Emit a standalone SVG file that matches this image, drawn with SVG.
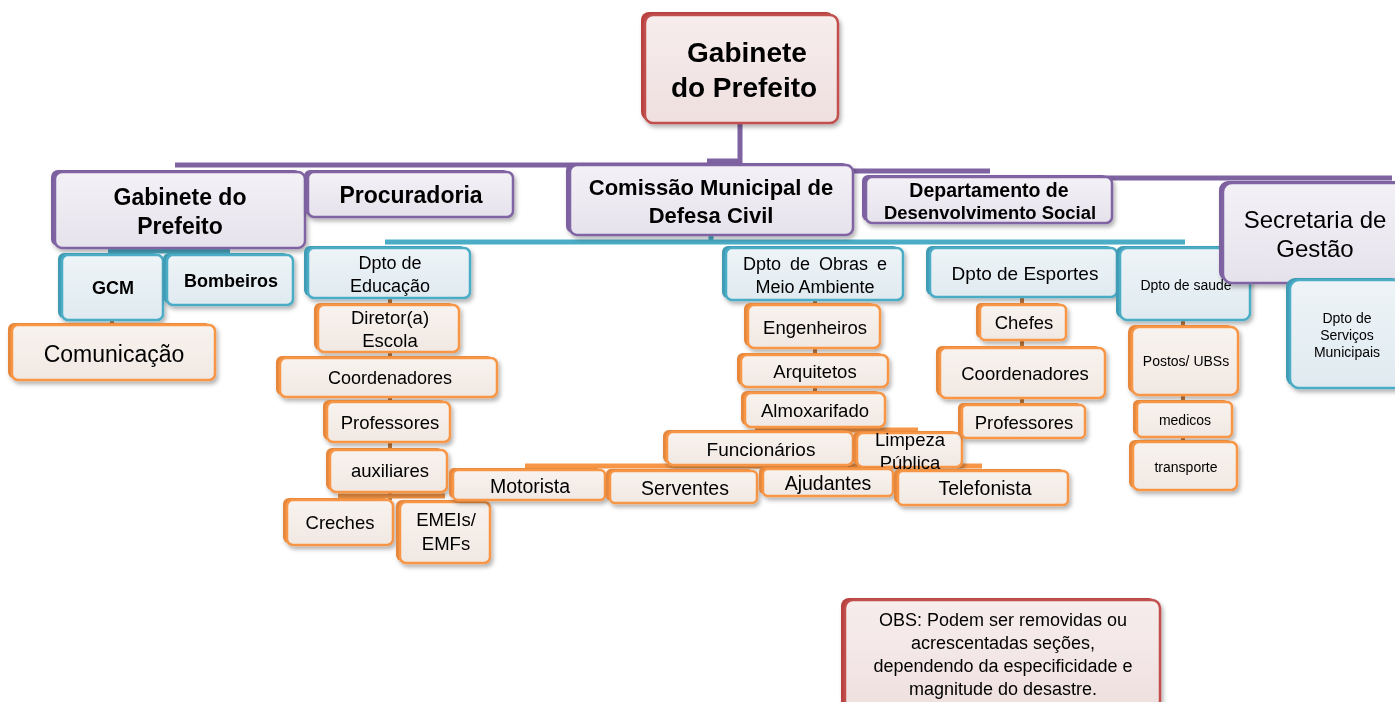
<svg xmlns="http://www.w3.org/2000/svg" width="1395" height="702" viewBox="0 0 1395 702">
<defs>
<linearGradient id="gp" x1="0" y1="0" x2="0" y2="1"><stop offset="0" stop-color="#f3f1f6"/><stop offset="1" stop-color="#e6e2ec"/></linearGradient>
<linearGradient id="gb" x1="0" y1="0" x2="0" y2="1"><stop offset="0" stop-color="#eef4f7"/><stop offset="1" stop-color="#dfeaf0"/></linearGradient>
<linearGradient id="go" x1="0" y1="0" x2="0" y2="1"><stop offset="0" stop-color="#f8f3ef"/><stop offset="1" stop-color="#f1e8e2"/></linearGradient>
<linearGradient id="gr" x1="0" y1="0" x2="0" y2="1"><stop offset="0" stop-color="#f7eded"/><stop offset="1" stop-color="#efdfdf"/></linearGradient>
<filter id="sh" x="-10%" y="-10%" width="130%" height="140%"><feDropShadow dx="2" dy="3" stdDeviation="2" flood-color="#000" flood-opacity="0.3"/></filter>
</defs>
<style>
.fr{stroke-width:2.5}
.p{fill:url(#gp);stroke:#8064a2}
.b{fill:url(#gb);stroke:#4bacc6}
.o{fill:url(#go);stroke:#f79646}
.r{fill:url(#gr);stroke:#c0504d}
.pk{fill:#7d619f}
.bk{fill:#3f9bb4}
.ok{fill:#e6873a}
.rk{fill:#b9433f}
.nd{filter:url(#sh)}
text{font-family:"Liberation Sans",Arial,sans-serif;fill:#000;text-anchor:middle}
.bd{font-weight:bold}
.cp{stroke:#7f63a1;stroke-width:5;fill:none}
.cb{stroke:#4bacc6;stroke-width:5;fill:none}
.co{stroke:#f79646;stroke-width:5;fill:none}
.cv{stroke:#c07a40;stroke-width:4;fill:none}
</style>

<g id="connectors">
<path class="cp" d="M740 123 V165 M175 165 H740 M740 171 H990 M990 178 H1392"/>
<path class="cp" d="M707 161 H740"/>
<path class="cb" d="M108 251 H230 M711 235 V242 M385 242 H1185"/>
<path class="cv" d="M112 320 V327 M390 298 V500 M815 300 V430 M1022 297 V405 M1183 320 V442"/>
<path class="co" d="M338 496 H445 M755 430 H918 M525 466 H982"/>
</g>

<g id="n-gabinete-top" class="nd"><rect class="rk" x="641" y="12" width="193" height="108" rx="8"/><rect class="fr r" x="645" y="15" width="193" height="108" rx="8"/>
<text class="bd" x="747" y="62" font-size="28">Gabinete</text><text class="bd" x="744" y="97" font-size="28">do Prefeito</text></g>

<g id="n-gabinete" class="nd"><rect class="pk" x="51" y="170" width="250" height="76" rx="7"/><rect class="fr p" x="55" y="172" width="250" height="76" rx="7"/>
<text class="bd" x="180" y="205" font-size="23">Gabinete do</text><text class="bd" x="180" y="234" font-size="23">Prefeito</text></g>

<g id="n-procuradoria" class="nd"><rect class="pk" x="304" y="170" width="205" height="45" rx="6"/><rect class="fr p" x="308" y="172" width="205" height="45" rx="6"/>
<text class="bd" x="411" y="203" font-size="23">Procuradoria</text></g>

<g id="n-comissao" class="nd"><rect class="pk" x="566" y="163" width="283" height="70" rx="7"/><rect class="fr p" x="570" y="165" width="283" height="70" rx="7"/>
<text class="bd" x="711" y="195" font-size="22">Comissão Municipal de</text><text class="bd" x="711" y="223" font-size="22">Defesa Civil</text></g>

<g id="n-departamento" class="nd"><rect class="pk" x="862" y="175" width="246" height="46" rx="6"/><rect class="fr p" x="866" y="177" width="246" height="46" rx="6"/>
<text class="bd" x="989" y="197" font-size="19.5">Departamento de</text><text class="bd" x="990" y="219" font-size="19" textLength="212" lengthAdjust="spacingAndGlyphs">Desenvolvimento Social</text></g>

<g id="n-gcm" class="nd"><rect class="bk" x="58" y="253" width="101" height="65" rx="6"/><rect class="fr b" x="62" y="255" width="101" height="65" rx="6"/>
<text class="bd" x="113" y="294" font-size="18">GCM</text></g>

<g id="n-bombeiros" class="nd"><rect class="bk" x="163" y="253" width="126" height="50" rx="6"/><rect class="fr b" x="167" y="255" width="126" height="50" rx="6"/>
<text class="bd" x="231" y="287" font-size="18">Bombeiros</text></g>

<g id="n-comunicacao" class="nd"><rect class="ok" x="8" y="323" width="203" height="55" rx="6"/><rect class="fr o" x="12" y="325" width="203" height="55" rx="6"/>
<text x="114" y="362" font-size="23">Comunicação</text></g>

<g id="n-educacao" class="nd"><rect class="bk" x="304" y="246" width="162" height="50" rx="6"/><rect class="fr b" x="308" y="248" width="162" height="50" rx="6"/>
<text x="390" y="269" font-size="18">Dpto de</text><text x="390" y="292" font-size="18">Educação</text></g>

<g id="n-diretor" class="nd"><rect class="ok" x="314" y="303" width="141" height="47" rx="6"/><rect class="fr o" x="318" y="305" width="141" height="47" rx="6"/>
<text x="390" y="324" font-size="18.5">Diretor(a)</text><text x="390" y="347" font-size="18.5">Escola</text></g>

<g id="n-coord-edu" class="nd"><rect class="ok" x="276" y="356" width="217" height="39" rx="6"/><rect class="fr o" x="280" y="358" width="217" height="39" rx="6"/>
<text x="390" y="384" font-size="18">Coordenadores</text></g>

<g id="n-prof-edu" class="nd"><rect class="ok" x="323" y="400" width="123" height="40" rx="6"/><rect class="fr o" x="327" y="402" width="123" height="40" rx="6"/>
<text x="390" y="429" font-size="18.5">Professores</text></g>

<g id="n-auxiliares" class="nd"><rect class="ok" x="326" y="448" width="117" height="42" rx="6"/><rect class="fr o" x="330" y="450" width="117" height="42" rx="6"/>
<text x="390" y="477" font-size="18.5">auxiliares</text></g>

<g id="n-creches" class="nd"><rect class="ok" x="283" y="498" width="106" height="45" rx="6"/><rect class="fr o" x="287" y="500" width="106" height="45" rx="6"/>
<text x="340" y="529" font-size="18.5">Creches</text></g>

<g id="n-emeis" class="nd"><rect class="ok" x="396" y="500" width="90" height="61" rx="6"/><rect class="fr o" x="400" y="502" width="90" height="61" rx="6"/>
<text x="446" y="526" font-size="18.5">EMEIs/</text><text x="446" y="550" font-size="18.5">EMFs</text></g>

<g id="n-obras" class="nd"><rect class="bk" x="722" y="246" width="177" height="52" rx="6"/><rect class="fr b" x="726" y="248" width="177" height="52" rx="6"/>
<text x="815" y="270" font-size="18" word-spacing="4">Dpto de Obras e</text><text x="815" y="293" font-size="18">Meio Ambiente</text></g>

<g id="n-engenheiros" class="nd"><rect class="ok" x="744" y="303" width="132" height="43" rx="6"/><rect class="fr o" x="748" y="305" width="132" height="43" rx="6"/>
<text x="815" y="334" font-size="18.5">Engenheiros</text></g>

<g id="n-arquitetos" class="nd"><rect class="ok" x="737" y="353" width="147" height="32" rx="6"/><rect class="fr o" x="741" y="355" width="147" height="32" rx="6"/>
<text x="815" y="378" font-size="18.5">Arquitetos</text></g>

<g id="n-almoxarifado" class="nd"><rect class="ok" x="741" y="391" width="140" height="34" rx="6"/><rect class="fr o" x="745" y="393" width="140" height="34" rx="6"/>
<text x="815" y="417" font-size="18.5">Almoxarifado</text></g>

<g id="n-funcionarios" class="nd"><rect class="ok" x="663" y="430" width="186" height="33" rx="6"/><rect class="fr o" x="667" y="432" width="186" height="33" rx="6"/>
<text x="761" y="456" font-size="19">Funcionários</text></g>

<g id="n-limpeza" class="nd"><rect class="ok" x="853" y="431" width="105" height="34" rx="6"/><rect class="fr o" x="857" y="433" width="105" height="34" rx="6"/>
<text x="910" y="446" font-size="18.5">Limpeza</text><text x="910" y="469" font-size="18.5">Pública</text></g>

<g id="n-motorista" class="nd"><rect class="ok" x="449" y="468" width="152" height="30" rx="5"/><rect class="fr o" x="453" y="470" width="152" height="30" rx="5"/>
<text x="530" y="493" font-size="19.5">Motorista</text></g>

<g id="n-serventes" class="nd"><rect class="ok" x="606" y="469" width="147" height="32" rx="5"/><rect class="fr o" x="610" y="471" width="147" height="32" rx="5"/>
<text x="685" y="495" font-size="19.5">Serventes</text></g>

<g id="n-ajudantes" class="nd"><rect class="ok" x="759" y="467" width="130" height="27" rx="5"/><rect class="fr o" x="763" y="469" width="130" height="27" rx="5"/>
<text x="828" y="490" font-size="19.5">Ajudantes</text></g>

<g id="n-telefonista" class="nd"><rect class="ok" x="894" y="469" width="170" height="34" rx="5"/><rect class="fr o" x="898" y="471" width="170" height="34" rx="5"/>
<text x="985" y="495" font-size="19.5">Telefonista</text></g>

<g id="n-esportes" class="nd"><rect class="bk" x="926" y="246" width="187" height="49" rx="6"/><rect class="fr b" x="930" y="248" width="187" height="49" rx="6"/>
<text x="1025" y="280" font-size="19">Dpto de Esportes</text></g>

<g id="n-chefes" class="nd"><rect class="ok" x="976" y="303" width="86" height="35" rx="5"/><rect class="fr o" x="980" y="305" width="86" height="35" rx="5"/>
<text x="1024" y="329" font-size="18.5">Chefes</text></g>

<g id="n-coord-esp" class="nd"><rect class="ok" x="936" y="346" width="165" height="50" rx="6"/><rect class="fr o" x="940" y="348" width="165" height="50" rx="6"/>
<text x="1025" y="380" font-size="18.5">Coordenadores</text></g>

<g id="n-prof-esp" class="nd"><rect class="ok" x="958" y="403" width="123" height="33" rx="5"/><rect class="fr o" x="962" y="405" width="123" height="33" rx="5"/>
<text x="1024" y="429" font-size="18.5">Professores</text></g>

<g id="n-saude" class="nd"><rect class="bk" x="1116" y="246" width="130" height="72" rx="7"/><rect class="fr b" x="1120" y="248" width="130" height="72" rx="7"/>
<text x="1186" y="290" font-size="14">Dpto de saude</text></g>

<g id="n-postos" class="nd"><rect class="ok" x="1128" y="325" width="106" height="68" rx="7"/><rect class="fr o" x="1132" y="327" width="106" height="68" rx="7"/>
<text x="1186" y="366" font-size="14">Postos/ UBSs</text></g>

<g id="n-medicos" class="nd"><rect class="ok" x="1133" y="400" width="95" height="35" rx="5"/><rect class="fr o" x="1137" y="402" width="95" height="35" rx="5"/>
<text x="1185" y="425" font-size="14">medicos</text></g>

<g id="n-transporte" class="nd"><rect class="ok" x="1129" y="440" width="104" height="48" rx="6"/><rect class="fr o" x="1133" y="442" width="104" height="48" rx="6"/>
<text x="1186" y="472" font-size="14">transporte</text></g>

<g id="n-secretaria" class="nd"><rect class="pk" x="1219" y="181" width="185" height="100" rx="9"/><rect class="fr p" x="1223" y="183" width="185" height="100" rx="9"/>
<text x="1315" y="228" font-size="24">Secretaria de</text><text x="1315" y="257" font-size="24">Gestão</text></g>

<g id="n-servicos" class="nd"><rect class="bk" x="1286" y="278" width="115" height="108" rx="9"/><rect class="fr b" x="1290" y="280" width="115" height="108" rx="9"/>
<text x="1347" y="323" font-size="14">Dpto de</text><text x="1347" y="340" font-size="14">Serviços</text><text x="1347" y="357" font-size="14">Municipais</text></g>

<g id="n-obs" class="nd"><rect class="rk" x="841" y="598" width="315" height="115" rx="8"/><rect class="fr r" x="845" y="600" width="315" height="115" rx="8"/>
<text x="1003" y="626" font-size="18">OBS: Podem ser removidas ou</text><text x="1003" y="649" font-size="18">acrescentadas seções,</text><text x="1003" y="672" font-size="18">dependendo da especificidade e</text><text x="1003" y="695" font-size="18">magnitude do desastre.</text></g>
</svg>
